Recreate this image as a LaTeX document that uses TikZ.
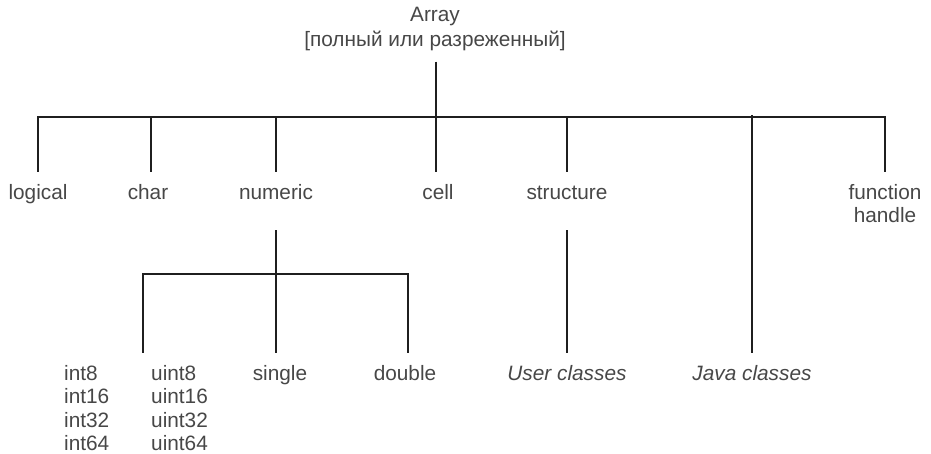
\documentclass[tikz,border=0pt]{standalone}
\usepackage{fontspec}
\setmainfont{Liberation Sans}
\begin{document}
\begin{tikzpicture}[x=1pt, y=1pt,
  txt/.style={inner sep=0pt, text=black!72, font=\fontsize{20.8}{23.5}\selectfont},
  lbl/.style={txt, anchor=north, inner ysep=12pt, text height=15pt, text depth=4pt},
  wire/.style={line width=1.8pt, black!88}]
  \useasboundingbox (0,0) rectangle (931,454);

  % root
  \node[txt, anchor=base] (array) at (435,432) {Array};
  \node[txt, anchor=base] (arraysub) at (435,407) {{[}полный или разреженный{]}};
  \coordinate (hub) at (436,337);

  % first level
  \node[lbl] (logical) at (38,282) {logical};
  \node[lbl] (char) at (148,282) {char};
  \node[lbl] (numeric) at (276,282) {numeric};
  \node[lbl] (cell) at (438,282) {cell};
  \node[lbl] (structure) at (567,282) {structure};
  \node[txt, anchor=north, inner ysep=12pt, align=center] (fh) at (885,282) {function\\handle};

  % second level
  \node[txt, anchor=north west] (ints) at (64,89) [align=left] {int8\\int16\\int32\\int64};
  \node[txt, anchor=north west] (uints) at (151,89) [align=left] {uint8\\uint16\\uint32\\uint64};
  \coordinate (ilink) at (143,101);
  \node[lbl] (single) at (280,101) {single};
  \node[lbl] (double) at (405,101) {double};
  \node[lbl] (user) at (567,101) {\itshape User classes};
  \node[lbl] (java) at (752,101) {\itshape Java classes};
  \coordinate (numbar) at (276,180);

  % connectors of the first level
  \draw[wire] ([yshift=-10pt]hub |- arraysub.south) -- (hub);
  \draw[wire] (logical.north) -- (logical.north |- hub) -- (fh.north |- hub) -- (fh.north);
  \draw[wire] ([xshift=3pt]char.north |- hub) -- ([xshift=3pt]char.north);
  \draw[wire] (numeric.north |- hub) -- (numeric.north);
  \draw[wire] (hub) -- (hub |- cell.north);
  \draw[wire] (structure.north |- hub) -- (structure.north);
  \draw[wire] ([yshift=2pt]java.north |- hub) -- (java.north);

  % connectors of the second level
  \draw[wire] ([yshift=-15pt]numeric.south) -- (numeric.south |- single.north);
  \draw[wire] (ilink) -- (ilink |- numbar) -- ([xshift=3pt]double.north |- numbar) -- ([xshift=3pt]double.north);
  \draw[wire] ([yshift=-15pt]structure.south) -- (user.north);
\end{tikzpicture}
\end{document}
